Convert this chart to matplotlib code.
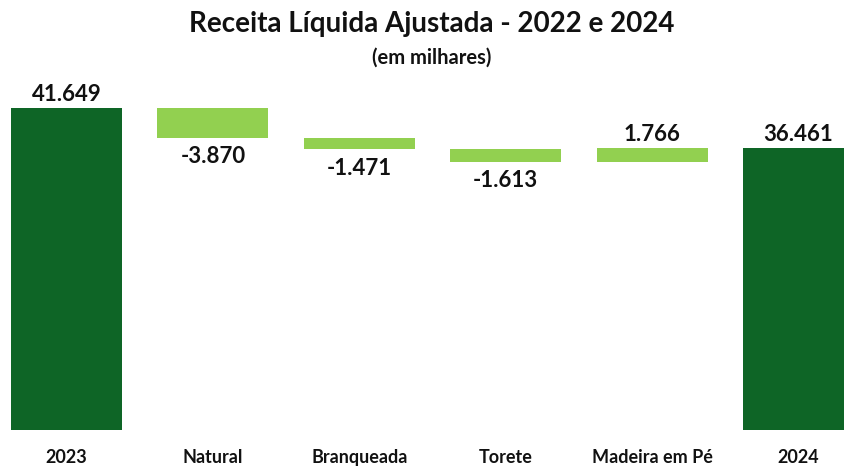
import matplotlib
matplotlib.use("Agg")
import matplotlib.pyplot as plt

categories = ["2023", "Natural", "Branqueada", "Torete", "Madeira em Pé", "2024"]
values = [41649, -3870, -1471, -1613, 1766, 36461]
is_total = [True, False, False, False, False, True]

dark = "#0E6526"
light = "#92D050"

plt.rcParams['font.family'] = ['Lato', 'DejaVu Sans']

W, H = 845, 468
fig = plt.figure(figsize=(W / 100, H / 100), dpi=100)
ax = fig.add_axes([0, 38 / H, 1, 330 / H])

def fmt(v):
    return f"{v:,}".replace(",", ".")

cum = 0
xs = list(range(len(categories)))
width = 0.758
lab_kw = dict(textcoords="offset points", ha="center", fontsize=16,
              fontweight="bold", color="#111111")
for i, (v, tot) in enumerate(zip(values, is_total)):
    if tot:
        cum = v
        ax.bar(i, v, bottom=0, width=width, color=dark, linewidth=0)
        ax.annotate(fmt(v), (i, v), xytext=(0, 2), va="bottom", **lab_kw)
    else:
        start = cum
        cum = cum + v
        bottom = min(start, cum)
        ax.bar(i, abs(v), bottom=bottom, width=width, color=light, linewidth=0)
        if v < 0:
            ax.annotate(fmt(v), (i, bottom), xytext=(0, -6), va="top", **lab_kw)
        else:
            ax.annotate(fmt(v), (i, cum), xytext=(0, 2), va="bottom", **lab_kw)

ax.set_xlim(-0.454, 5.318)
ax.set_ylim(0, 330 / 322 * 41649)
ax.set_xticks(xs)
ax.set_xticklabels(categories, fontsize=13, fontweight="bold", color="#111111")
ax.tick_params(axis="x", length=0, pad=14)
ax.set_yticks([])
for s in ax.spines.values():
    s.set_visible(False)

fig.text(432 / W, 1 - 24 / H, "Receita Líquida Ajustada - 2022 e 2024", ha="center", va="center",
         fontsize=20, fontweight="bold", color="#111111")
fig.text(432 / W, 1 - 58 / H, "(em milhares)", ha="center", va="center",
         fontsize=14.5, fontweight="bold", color="#111111")

fig.savefig("out.png", dpi=100)
